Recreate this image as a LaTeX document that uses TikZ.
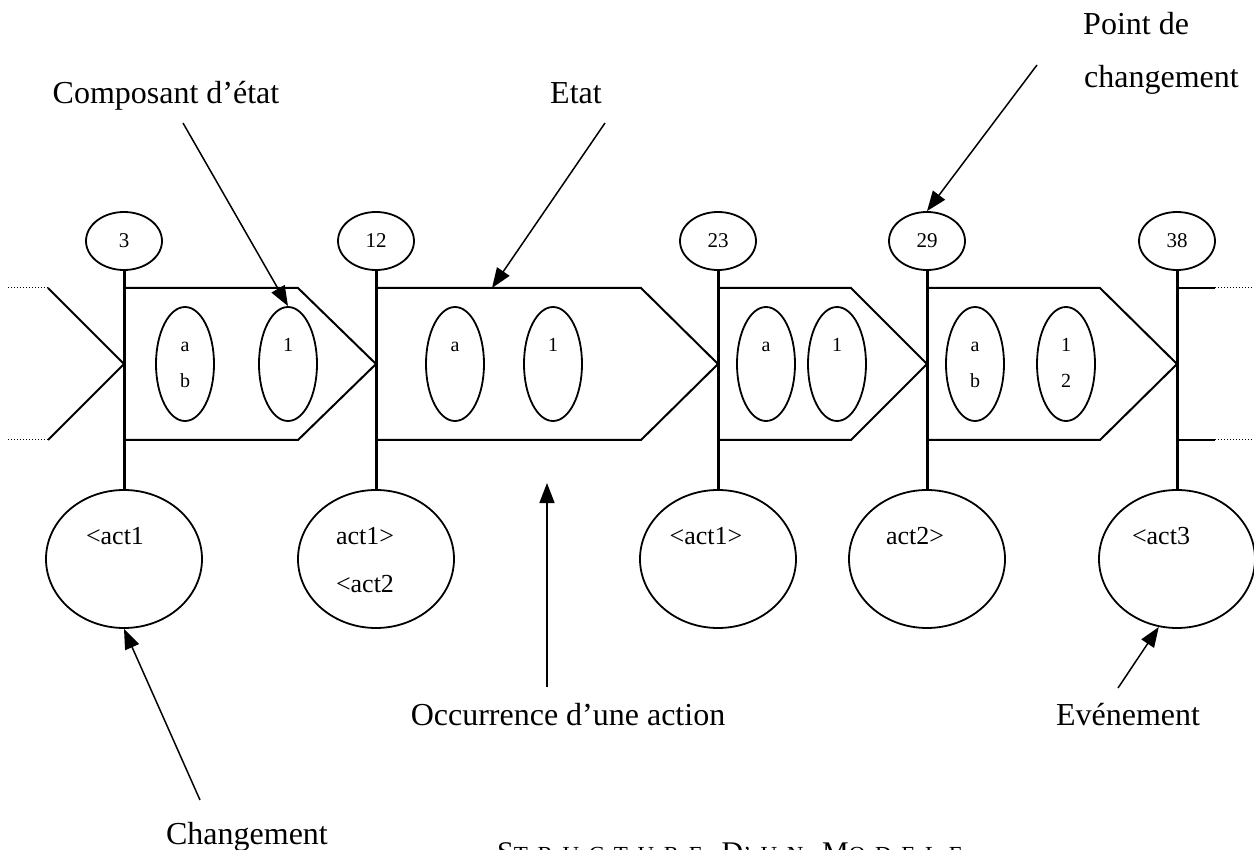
\documentclass[tikz,border=0pt]{standalone}
\usepackage{fontspec}
\setmainfont{Liberation Serif}
\newfontfamily\titlefont[LetterSpace=42]{Liberation Serif}
\usetikzlibrary{shapes.geometric,arrows.meta,calc}

\newcommand\capbig[1]{{\fontsize{30}{36}\selectfont #1}}
\newcommand\capsmall[1]{{\fontsize{23}{28}\selectfont #1}}

\begin{document}
\begin{tikzpicture}[x=1pt,y=-1pt,
  timeline/.style={line width=3pt},
  stateline/.style={line width=2pt, line join=miter},
  stamp/.style={draw, ellipse, line width=1.8pt, minimum width=76pt, minimum height=58pt, inner sep=0pt, font=\fontsize{21}{24}\selectfont},
  event/.style={draw, ellipse, line width=1.8pt, minimum width=156pt, minimum height=138pt, inner sep=0pt},
  comp/.style={draw, ellipse, line width=1.8pt, minimum width=58pt, minimum height=114pt, inner sep=0pt},
  val/.style={font=\fontsize{20}{24}\selectfont, anchor=base, inner sep=0pt},
  act/.style={font=\fontsize{26}{30}\selectfont, anchor=base, inner sep=0pt},
  lbl/.style={font=\fontsize{32}{38}\selectfont, anchor=base, inner sep=0pt},
  pointer/.style={line width=1.5pt, -{Triangle[length=20pt,width=15pt]}},
  stub/.style={line width=1pt, dotted}
]
\useasboundingbox (0,0) rectangle (1254,850);
\clip (0,0) rectangle (1254,850);
\fill[white] (0,0) rectangle (1254,850);

% change points (top) and events (bottom)
\node[stamp] (t1) at (124,241) {3};
\node[stamp] (t2) at (376,241) {12};
\node[stamp] (t3) at (718,241) {23};
\node[stamp] (t4) at (927,241) {29};
\node[stamp] (t5) at (1177,241) {38};

\node[event] (b1) at (124,559) {};
\node[event] (b2) at (376,559) {};
\node[event] (b3) at (718,559) {};
\node[event] (b4) at (927,559) {};
\node[event] (b5) at (1177,559) {};

\node[act] (a1) at (115,544) {<act1};
\node[act] (a2a) at (365,544) {act1>};
\node[act] (a2b) at (365,592) {<act2};
\node[act] (a3) at (706,544) {<act1>};
\node[act] (a4) at (915,544) {act2>};
\node[act] (a5) at (1161,544) {<act3};

% states between change points
\draw[stateline] (124,288) -- (298,288) -- (376,364) -- (298,440) -- (124,440);
\draw[stateline] (376,288) -- (641,288) -- (718,364) -- (641,440) -- (376,440);
\draw[stateline] (718,288) -- (851,288) -- (927,364) -- (851,440) -- (718,440);
\draw[stateline] (927,288) -- (1100,288) -- (1177,364) -- (1100,440) -- (927,440);

% incoming state on the left, outgoing on the right
\draw[stateline] (48,288) -- (124,364) -- (48,440);
\draw[stub] (8,288) -- (48,288);
\draw[stub] (8,440) -- (48,440);
\draw[stateline] (1177,288) -- (1215,288);
\draw[stateline] (1177,440) -- (1215,440);
\draw[stub] (1215,288) -- (1253,288);
\draw[stub] (1215,440) -- (1253,440);

% time lines
\draw[timeline] (t1) -- (b1);
\draw[timeline] (t2) -- (b2);
\draw[timeline] (t3) -- (b3);
\draw[timeline] (t4) -- (b4);
\draw[timeline] (t5) -- (b5);

% state components
\node[comp] (e11) at (185,364) {};
\node[comp] (e12) at (288,364) {};
\node[comp] (e21) at (455,364) {};
\node[comp] (e22) at (553,364) {};
\node[comp] (e31) at (766,364) {};
\node[comp] (e32) at (837,364) {};
\node[comp] (e41) at (975,364) {};
\node[comp] (e42) at (1066,364) {};

\node[val] (v11a) at (185,352) {a};
\node[val] (v11b) at (185,388) {b};
\node[val] (v12a) at (288,352) {1};
\node[val] (v21a) at (455,352) {a};
\node[val] (v22a) at (553,352) {1};
\node[val] (v31a) at (766,352) {a};
\node[val] (v32a) at (837,352) {1};
\node[val] (v41a) at (975,352) {a};
\node[val] (v41b) at (975,388) {b};
\node[val] (v42a) at (1066,352) {1};
\node[val] (v42b) at (1066,388) {2};

% callouts
\node[lbl] (lComp) at (166,104) {Composant d’état};
\node[lbl] (lEtat) at (576,104) {Etat};
\node[lbl, anchor=base west] (lPoint) at (1083,35) {Point de};
\node[lbl, anchor=base west] (lPoint2) at (1084,88) {changement};
\node[lbl] (lOcc) at (568,725) {Occurrence d’une action};
\node[lbl] (lEve) at (1128,725) {Evénement};
\node[lbl] (lChg) at (247,844) {Changement};

\coordinate (cComp) at (183,123);
\coordinate (cEtat) at (605,123);
\coordinate (sTop2) at (492,288);
\coordinate (cPoint) at (1037,65);
\coordinate (cOcc) at (547,687);
\coordinate (occTip) at (547,483);
\coordinate (cChg) at (200,800);
\coordinate (cEve) at (1118,688);

\draw[pointer] (cComp) -- (e12.north);
\draw[pointer] (cEtat) -- (sTop2);
\draw[pointer] (cPoint) -- (t4.north);
\draw[pointer] (cOcc) -- (occTip);
\draw[pointer] (cChg) -- (b1.south);
\draw[pointer] (cEve) -- (b5.-105);

% caption, set in spaced small capitals
\node[anchor=base west, inner sep=0pt] (title) at (497,862)
  {\titlefont\capbig{S}\capsmall{TRUCTURE}\hspace{12pt} \capbig{D}\capsmall{’UN}\hspace{12pt} \capbig{M}\capsmall{ODELE}};
\end{tikzpicture}
\end{document}
